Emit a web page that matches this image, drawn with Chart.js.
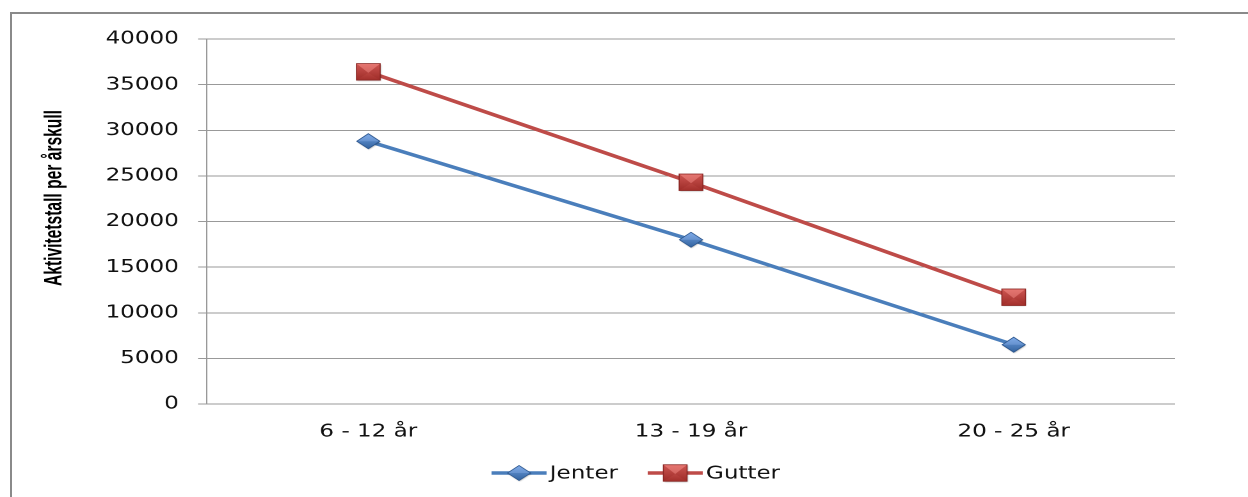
<!DOCTYPE html>
<html>
<head>
<meta charset="utf-8">
<script src="https://cdn.jsdelivr.net/npm/chart.js@4"></script>
<style>
  html, body { margin: 0; padding: 0; background: #fff; overflow: hidden; width: 1248px; height: 497px; }
  #frame { position: absolute; left: 10px; top: 12px; width: 1300px; height: 600px; border: 2px solid #8a8a8a; box-sizing: border-box; }
  #wrap { position: absolute; left: 0; top: 0; width: 975px; height: 497px; transform: scaleX(1.28); transform-origin: 0 0; }
</style>
</head>
<body>
<div id="frame"></div>
<div id="wrap"><canvas id="c" width="975" height="497"></canvas></div>
<script>
// Activity numbers per age cohort, split by girls and boys
const categories = ['6 - 12 år', '13 - 19 år', '20 - 25 år'];
const jenter = [28800, 18000, 6500];
const gutter = [36400, 24300, 11700];
const seriesNames = ['Jenter', 'Gutter'];
const yTitle = 'Aktivitetstall per årskull';
const yMax = 40000;
const yStep = 5000;

const TICK_FONT = { family: '"DejaVu Sans", Verdana, sans-serif', size: 18 };
const TITLE_FONT = 'bold 19.5px "Liberation Sans", Arial, sans-serif';

// Excel-style bevelled markers
function drawMarker(ctx, kind, x, y) {
  ctx.save();
  ctx.shadowColor = 'rgba(0,0,0,0.35)';
  ctx.shadowBlur = 3;
  ctx.shadowOffsetX = 1;
  ctx.shadowOffsetY = 1.5;
  if (kind === 'square') {
    const w = 18.5, h = 16.5;
    const l = x - w / 2, t = y - h / 2;
    const g = ctx.createLinearGradient(0, t, 0, t + h);
    g.addColorStop(0, '#d9605b');
    g.addColorStop(1, '#a3302c');
    ctx.fillStyle = g;
    ctx.fillRect(l, t, w, h);
    ctx.shadowColor = 'transparent';
    // top facet
    ctx.beginPath();
    ctx.moveTo(l, t); ctx.lineTo(l + w, t); ctx.lineTo(x, y + 1); ctx.closePath();
    ctx.fillStyle = 'rgba(255,160,155,0.35)';
    ctx.fill();
    // side facets
    ctx.beginPath();
    ctx.moveTo(l, t); ctx.lineTo(x, y + 1); ctx.lineTo(l, t + h); ctx.closePath();
    ctx.moveTo(l + w, t); ctx.lineTo(x, y + 1); ctx.lineTo(l + w, t + h); ctx.closePath();
    ctx.fillStyle = 'rgba(120,20,20,0.12)';
    ctx.fill();
    ctx.strokeStyle = '#8b2724';
    ctx.lineWidth = 0.8;
    ctx.strokeRect(l, t, w, h);
  } else {
    const w = 18, h = 15;
    ctx.beginPath();
    ctx.moveTo(x, y - h / 2); ctx.lineTo(x + w / 2, y); ctx.lineTo(x, y + h / 2); ctx.lineTo(x - w / 2, y); ctx.closePath();
    const g = ctx.createLinearGradient(0, y - h / 2, 0, y + h / 2);
    g.addColorStop(0, '#6e9ee0');
    g.addColorStop(1, '#34649f');
    ctx.fillStyle = g;
    ctx.fill();
    ctx.shadowColor = 'transparent';
    ctx.beginPath();
    ctx.moveTo(x, y - h / 2); ctx.lineTo(x + w / 2, y); ctx.lineTo(x - w / 2, y); ctx.closePath();
    ctx.fillStyle = 'rgba(170,205,255,0.25)';
    ctx.fill();
    ctx.beginPath();
    ctx.moveTo(x, y - h / 2); ctx.lineTo(x + w / 2, y); ctx.lineTo(x, y + h / 2); ctx.lineTo(x - w / 2, y); ctx.closePath();
    ctx.strokeStyle = '#2d5890';
    ctx.lineWidth = 0.8;
    ctx.stroke();
  }
  ctx.restore();
}

const decorations = {
  id: 'decorations',
  afterDatasetsDraw(chart) {
    const ctx = chart.ctx;
    chart.data.datasets.forEach((ds, i) => {
      chart.getDatasetMeta(i).data.forEach(pt => drawMarker(ctx, ds.marker, pt.x, pt.y));
    });
  },
  afterDraw(chart) {
    const ctx = chart.ctx;
    // rotated value-axis title, condensed along its length
    ctx.save();
    ctx.translate(48, 198);
    ctx.rotate(-Math.PI / 2);
    ctx.scale(0.8, 1);
    ctx.font = TITLE_FONT;
    ctx.fillStyle = '#000';
    ctx.textAlign = 'center';
    ctx.textBaseline = 'alphabetic';
    ctx.fillText(yTitle, 0, 0);
    ctx.restore();

    // legend: line with marker, then series name
    const legendY = 473;
    const starts = [384, 506];
    chart.data.datasets.forEach((ds, i) => {
      const x0 = starts[i];
      ctx.save();
      ctx.strokeStyle = ds.borderColor;
      ctx.lineWidth = 3.5;
      ctx.beginPath();
      ctx.moveTo(x0, legendY);
      ctx.lineTo(x0 + 43, legendY);
      ctx.stroke();
      ctx.restore();
      drawMarker(ctx, ds.marker, x0 + 21.5, legendY);
      ctx.save();
      ctx.font = TICK_FONT.size + 'px ' + TICK_FONT.family;
      ctx.fillStyle = '#111';
      ctx.textAlign = 'left';
      ctx.textBaseline = 'middle';
      ctx.fillText(ds.label, x0 + 45.5, legendY + 1);
      ctx.restore();
    });
  }
};

new Chart(document.getElementById('c'), {
  type: 'line',
  data: {
    labels: categories,
    datasets: [
      { label: seriesNames[0], data: jenter, borderColor: '#4a7ebb', borderWidth: 3.5, pointRadius: 0, pointHoverRadius: 0, tension: 0, fill: false, marker: 'diamond' },
      { label: seriesNames[1], data: gutter, borderColor: '#be4b48', borderWidth: 3.5, pointRadius: 0, pointHoverRadius: 0, tension: 0, fill: false, marker: 'square' }
    ]
  },
  options: {
    responsive: false,
    animation: false,
    devicePixelRatio: 2,
    events: [],
    layout: { padding: { top: 39, right: 57, bottom: 0, left: 0 } },
    plugins: { legend: { display: false }, tooltip: { enabled: false } },
    scales: {
      x: {
        offset: true,
        grid: { display: false, drawTicks: false },
        border: { display: false },
        ticks: { padding: 17, color: '#111', font: TICK_FONT, maxRotation: 0 },
        afterFit(s) { s.height = 93; }
      },
      y: {
        min: 0,
        max: yMax,
        ticks: { stepSize: yStep, padding: 15, color: '#111', font: TICK_FONT, callback: v => String(v) },
        grid: { color: '#999', lineWidth: 1, tickLength: 7 },
        border: { display: true, color: '#999', width: 1 },
        afterFit(s) { s.width = 161.7; }
      }
    }
  },
  plugins: [decorations]
});
</script>
</body>
</html>
